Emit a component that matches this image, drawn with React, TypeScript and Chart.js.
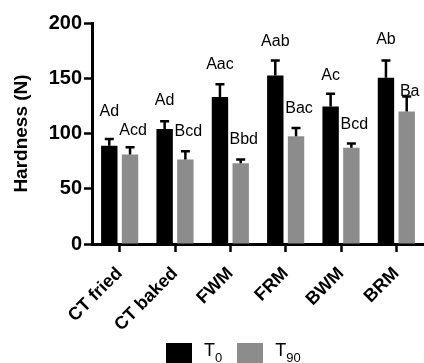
import React, { useEffect, useRef } from "react";
import { Chart, registerables } from "chart.js";

Chart.register(...registerables);

const categories = ["CT fried", "CT baked", "FWM", "FRM", "BWM", "BRM"];
const t0Values = [89, 104, 133, 152.5, 124.5, 150.5];
const t0Errors = [6, 7, 11.5, 13.5, 11.5, 15.5];
const t90Values = [81, 76.5, 73, 97.5, 87, 120];
const t90Errors = [6.5, 7.5, 3.5, 7.5, 4, 13.5];
const t0Letters = ["Ad", "Ad", "Aac", "Aab", "Ac", "Ab"];
const t90Letters = ["Acd", "Bcd", "Bbd", "Bac", "Bcd", "Ba"];
const t0LetterY = [119.5, 129.7, 162.6, 183, 152.3, 184.6];
const t90LetterY = [103, 101.6, 94.1, 122.8, 108.3, 137.8];
const yTicks = [0, 50, 100, 150, 200];

const FONT = "'Liberation Sans', Arial, Helvetica, sans-serif";
const BLACK = "#000000";
const GRAY = "#8c8c8c";

const errors = [t0Errors, t90Errors];
const letters = [t0Letters, t90Letters];
const letterY = [t0LetterY, t90LetterY];

const annotPlugin = {
  id: "annot",
  afterDatasetsDraw(chart: any) {
    const ctx = chart.ctx;
    const yScale = chart.scales.y;
    ctx.save();
    chart.data.datasets.forEach((ds: any, i: number) => {
      const meta = chart.getDatasetMeta(i);
      meta.data.forEach((el: any, j: number) => {
        const v = ds.data[j];
        const yTop = yScale.getPixelForValue(v);
        const yCap = yScale.getPixelForValue(v + errors[i][j]);
        ctx.strokeStyle = BLACK;
        ctx.lineWidth = 2.5;
        ctx.beginPath();
        ctx.moveTo(el.x, yTop);
        ctx.lineTo(el.x, yCap);
        ctx.moveTo(el.x - 4.5, yCap);
        ctx.lineTo(el.x + 4.5, yCap);
        ctx.stroke();
        ctx.fillStyle = BLACK;
        ctx.font = `16px ${FONT}`;
        ctx.textAlign = "center";
        ctx.textBaseline = "middle";
        const dx = i === 1 ? 3 : 0;
        ctx.fillText(letters[i][j], el.x + dx, yScale.getPixelForValue(letterY[i][j]));
      });
    });
    ctx.restore();
  },
};

export default function App() {
  const ref = useRef<HTMLCanvasElement | null>(null);
  useEffect(() => {
    if (!ref.current) return;
    const chart = new Chart(ref.current, {
      type: "bar",
      data: {
        labels: categories,
        datasets: [
          { label: "T0", data: t0Values, backgroundColor: BLACK, borderWidth: 0 },
          { label: "T90", data: t90Values, backgroundColor: GRAY, borderWidth: 0 },
        ],
      },
      options: {
        animation: false,
        responsive: true,
        maintainAspectRatio: false,
        devicePixelRatio: 1,
        layout: { padding: { top: 23, right: 0, bottom: 0, left: 0 } },
        datasets: { bar: { categoryPercentage: 0.75, barPercentage: 0.79 } },
        plugins: { legend: { display: false }, tooltip: { enabled: false } },
        scales: {
          x: {
            offset: true,
            grid: { offset: false, drawOnChartArea: false, drawTicks: true, tickLength: 8, tickWidth: 2.5, tickColor: BLACK },
            border: { display: true, color: BLACK, width: 3 },
            ticks: {
              color: BLACK,
              font: { family: FONT, size: 18, weight: "bold" },
              maxRotation: 45,
              minRotation: 45,
              padding: 11,
            },
            afterFit: (s: any) => { s.height = 119; },
          },
          y: {
            min: 0,
            max: 200,
            afterBuildTicks: (s: any) => { s.ticks = yTicks.map((v) => ({ value: v })); },
            grid: { drawOnChartArea: false, drawTicks: true, tickLength: 8, tickWidth: 2.5, tickColor: BLACK },
            border: { display: true, color: BLACK, width: 3 },
            ticks: { color: BLACK, font: { family: FONT, size: 20, weight: "bold" }, padding: 2 },
            title: {
              display: true,
              text: "Hardness (N)",
              color: BLACK,
              font: { family: FONT, size: 19, weight: "bold" },
              padding: { top: 10, bottom: 0 },
            },
            afterFit: (s: any) => { s.width = 92; },
          },
        },
      },
      plugins: [annotPlugin],
    });
    return () => chart.destroy();
  }, []);

  const textStyle: React.CSSProperties = { fontFamily: FONT, fontSize: 18, lineHeight: "18px", color: BLACK, whiteSpace: "nowrap" };
  const subStyle: React.CSSProperties = { fontSize: 13, position: "relative", top: 6 };
  return (
    <div style={{ position: "absolute", left: 0, top: 0, width: 424, height: 363, overflow: "hidden", background: "#fff" }}>
      <canvas ref={ref} style={{ display: "block" }} />
      <div style={{ position: "absolute", left: 166, top: 341, display: "flex", alignItems: "flex-start" }}>
        <div style={{ width: 26, height: 24, marginTop: 2, background: BLACK }} />
        <div style={{ ...textStyle, marginLeft: 12 }}>
          T<span style={subStyle}>0</span>
        </div>
        <div style={{ width: 26, height: 24, marginTop: 2, marginLeft: 15, background: GRAY }} />
        <div style={{ ...textStyle, marginLeft: 12 }}>
          T<span style={subStyle}>90</span>
        </div>
      </div>
    </div>
  );
}
